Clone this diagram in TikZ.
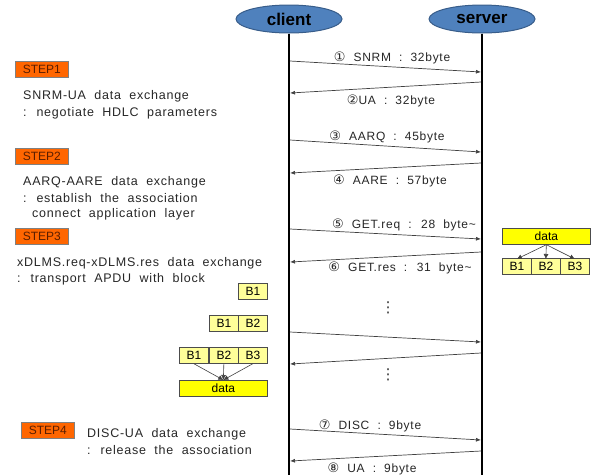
\documentclass[tikz,border=0pt]{standalone}
\usepackage{fontspec}
\setmainfont{Liberation Sans}
\newfontfamily\gul{Liberation Sans}[LetterSpace=6,WordSpace=2]
\newfontfamily\dv{DejaVu Sans}
\newcommand{\cnum}[1]{{\dv\fontsize{13}{13}\selectfont #1}}
\usetikzlibrary{shapes.geometric,arrows.meta}
\definecolor{ellfill}{HTML}{4F81BD}
\definecolor{elldraw}{HTML}{385D8A}
\definecolor{stepor}{HTML}{FF6600}
\definecolor{stepbd}{HTML}{808080}
\definecolor{steptx}{HTML}{5A1E00}
\definecolor{blk}{HTML}{FFFF99}
\definecolor{dyel}{HTML}{FFFF00}
\begin{document}
\begin{tikzpicture}[x=1pt,y=-1pt,
 actor/.style={ellipse, fill=ellfill, draw=elldraw, line width=1pt, minimum width=106pt, minimum height=28pt, inner sep=0pt, font=\fontsize{17}{17}\selectfont\bfseries},
 life/.style={line width=2pt},
 msg/.style={draw=black!75, line width=0.7pt, -{Latex[length=5pt,width=4pt]}},
 mlabel/.style={font=\gul\fontsize{12}{14}\selectfont, text=black!85, inner sep=0pt, anchor=base},
 stepbox/.style={fill=stepor, draw=stepbd, line width=0.8pt, minimum width=53pt, minimum height=16pt, inner sep=0pt, text=steptx, font=\fontsize{12}{12}\selectfont, anchor=north west},
 desc/.style={font=\gul\fontsize{12.5}{17}\selectfont, text=black!85, anchor=base west, inner sep=0pt},
 bbox/.style={fill=blk, draw=black!70, line width=0.7pt, minimum width=29pt, minimum height=16pt, inner sep=0pt, font=\fontsize{12}{12}\selectfont, anchor=north west},
 dbox/.style={fill=dyel, draw=black!70, line width=0.7pt, minimum width=88pt, minimum height=16pt, inner sep=0pt, font=\fontsize{12}{12}\selectfont, anchor=north west},
 link/.style={draw=black!75, line width=0.6pt, -{Latex[length=5pt,width=5pt]}},
 dotsn/.style={font=\dv\fontsize{15}{15}\selectfont, text=black!80, inner sep=0pt}
]
\useasboundingbox (0,0) rectangle (597,475);
% actors and lifelines
\node[actor] (client) at (289,19) {client};
\node[actor] (server) at (482,19) {server};
\coordinate (cend) at (289,475);
\coordinate (send) at (482,475);
\draw[life] (client.south) -- (cend);
\draw[life] (server.south) -- (send);
% message end points
\coordinate (c1) at (290,61);  \coordinate (s1) at (481,72);
\coordinate (s2) at (481,82);  \coordinate (c2) at (290,93);
\coordinate (c3) at (290,140); \coordinate (s3) at (481,152);
\coordinate (s4) at (481,163); \coordinate (c4) at (290,173);
\coordinate (c5) at (290,229); \coordinate (s5) at (481,239);
\coordinate (s6) at (481,252); \coordinate (c6) at (290,262);
\coordinate (c7) at (290,332); \coordinate (s7) at (481,342);
\coordinate (s8) at (481,353); \coordinate (c8) at (290,364);
\coordinate (c9) at (290,429); \coordinate (s9) at (481,440);
\coordinate (s10) at (481,451); \coordinate (c10) at (290,461);
\draw[msg] (c1) -- (s1);
\draw[msg] (s2) -- (c2);
\draw[msg] (c3) -- (s3);
\draw[msg] (s4) -- (c4);
\draw[msg] (c5) -- (s5);
\draw[msg] (s6) -- (c6);
\draw[msg] (c7) -- (s7);
\draw[msg] (s8) -- (c8);
\draw[msg] (c9) -- (s9);
\draw[msg] (s10) -- (c10);
% message labels
\node[mlabel] (l1) at (392,61.5) {\cnum{①} SNRM : 32byte};
\node[mlabel] (l2) at (391,104.5) {\cnum{②}UA : 32byte};
\node[mlabel] (l3) at (387,140.5) {\cnum{③} AARQ : 45byte};
\node[mlabel] (l4) at (390,184.5) {\cnum{④} AARE : 57byte};
\node[mlabel] (l5) at (404,228.5) {\cnum{⑤} GET.req : 28 byte\textasciitilde};
\node[mlabel] (l6) at (400,271.5) {\cnum{⑥} GET.res : 31 byte\textasciitilde};
\node[mlabel] (l7) at (370,429.5) {\cnum{⑦} DISC : 9byte};
\node[mlabel] (l8) at (372,472.5) {\cnum{⑧} UA : 9byte};
% vertical dots
\node[dotsn] (d1) at (388,308) {⋮};
\node[dotsn] (d2) at (388,375) {⋮};
% steps
\node[stepbox] (st1) at (15,61) {STEP1};
\node[stepbox] (st2) at (15,148) {STEP2};
\node[stepbox] (st3) at (15,228) {STEP3};
\node[stepbox] (st4) at (21,422) {STEP4};
% descriptions
\node[desc] (t1a) at (23,99.5) {SNRM-UA data exchange};
\node[desc] (t1b) at (23,116.5) {: negotiate HDLC parameters};
\node[desc] (t2a) at (23,185.5) {AARQ-AARE data exchange};
\node[desc] (t2b) at (23,202.5) {: establish the association};
\node[desc] (t2c) at (32,217.5) {connect application layer};
\node[desc] (t3a) at (17,266.5) {xDLMS.req-xDLMS.res data exchange};
\node[desc] (t3b) at (17,282.5) {: transport APDU with block};
\node[desc] (t4a) at (87,437.5) {DISC-UA data exchange};
\node[desc] (t4b) at (87,454.5) {: release the association};
% right-side block diagram
\node[dbox] (rdata) at (502,228) {data};
\node[bbox] (rb1) at (502,258) {B1};
\node[bbox] (rb2) at (531,258) {B2};
\node[bbox] (rb3) at (560,258) {B3};
\draw[link] (rdata.south) -- ([yshift=-1pt]rb1.north);
\draw[link] (rdata.south) -- ([yshift=-1pt]rb2.north);
\draw[link] (rdata.south) -- ([yshift=-1pt]rb3.north);
% left-side blocks
\node[bbox] (la1) at (238,283) {B1};
\node[bbox] (lb1) at (209,315) {B1};
\node[bbox] (lb2) at (238,315) {B2};
\node[bbox] (lc1) at (179,347) {B1};
\node[bbox] (lc2) at (209,347) {B2};
\node[bbox] (lc3) at (238,347) {B3};
\node[dbox] (ldata) at (179,380) {data};
\draw[link] (lc1.south) -- (ldata.north);
\draw[link] (lc2.south) -- (ldata.north);
\draw[link] (lc3.south) -- (ldata.north);
\end{tikzpicture}
\end{document}
